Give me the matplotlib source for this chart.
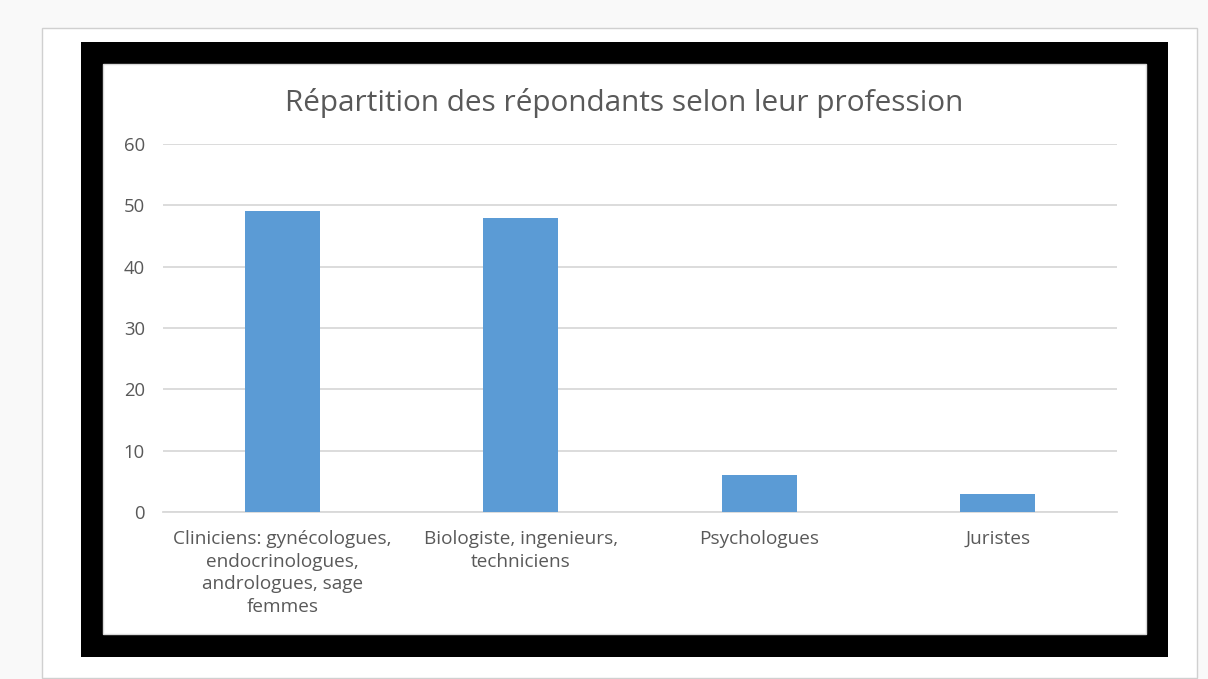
import matplotlib
matplotlib.use("Agg")
import matplotlib.pyplot as plt
from matplotlib.patches import Rectangle

categories = ["Cliniciens: gynécologues,\nendocrinologues,\nandrologues, sage\nfemmes",
              "Biologiste, ingenieurs,\ntechniciens",
              "Psychologues",
              "Juristes"]
values = [49, 48, 6, 3]
yticks = [0, 10, 20, 30, 40, 50, 60]
title = "Répartition des répondants selon leur profession"

plt.rcParams['font.family'] = ['Open Sans', 'DejaVu Sans']
W, H = 1208, 679
fig = plt.figure(figsize=(W/100, H/100), dpi=100, facecolor='#f9f9f9')

def frect(x0, y0, x1, y1, **kw):
    # rectangle given in pixel coords (top-left origin)
    fig.patches.append(Rectangle((x0/W, 1-y1/H), (x1-x0)/W, (y1-y0)/H,
                                 transform=fig.transFigure, figure=fig,
                                 zorder=-5, **kw))

frect(42, 28, 1197, 678, facecolor='white', edgecolor='#d0d0d0', linewidth=1)
frect(81, 42, 1168, 657, facecolor='black', edgecolor='none')
frect(103, 64, 1146, 634, facecolor='white', edgecolor='#d9d9d9', linewidth=1)

ax = fig.add_axes([163/W, 1-512/H, (1117-163)/W, (512-144)/H])
ax.set_facecolor('none')
x = range(len(categories))
ax.bar(x, values, width=0.315, color='#5b9bd5', zorder=3)
ax.set_xlim(-0.5, len(categories)-0.5)
ax.set_ylim(0, 60)
ax.set_yticks(yticks)
ax.set_xticks(list(x))
ax.set_xticklabels(categories, fontsize=13.7, color='#595959', linespacing=1.33)
ax.tick_params(axis='y', length=0, pad=13, labelsize=13.3, labelcolor='#595959')
ax.tick_params(axis='x', length=0, pad=13)
ax.grid(axis='y', color='#d9d9d9', linewidth=1.3, zorder=0)
for s in ['top', 'right', 'left']:
    ax.spines[s].set_visible(False)
ax.spines['bottom'].set_color('#d9d9d9')
ax.spines['bottom'].set_linewidth(1.3)

fig.text(624/W, 1-103/H, title, ha='center', va='center', fontsize=21.4, color='#595959')

fig.savefig('out.png', dpi=100, facecolor=fig.get_facecolor())
